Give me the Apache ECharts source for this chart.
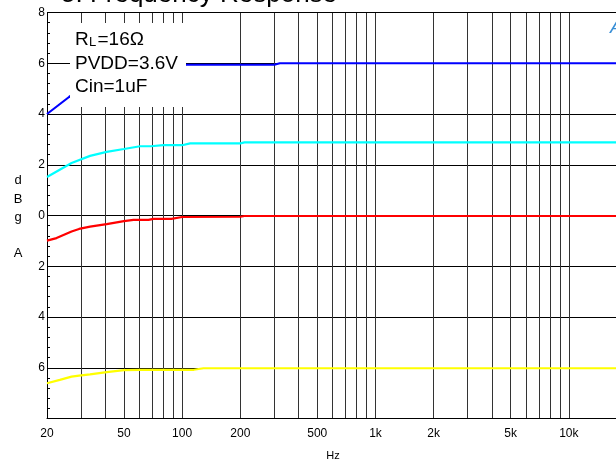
<!DOCTYPE html>
<html><head><meta charset="utf-8">
<script src="https://cdn.jsdelivr.net/npm/echarts@6/dist/echarts.min.js"></script>
<style>html,body{margin:0;padding:0;background:#fff}#c{width:616px;height:461px}</style>
</head><body><div id="c"></div>
<script>
// Frequency (Hz) and gain (dB)
const blueFreq   = [20, 26, 30, 40, 50, 60, 80, 100, 106, 300, 320, 20000];
const blueGain   = [4.0, 4.67, 5.0, 5.4, 5.6, 5.75, 5.88, 5.93, 5.94, 5.94, 6.0, 6.0];
const cyanFreq   = [20, 26.8, 33.4, 40.7, 50, 60.6, 69, 80, 100, 110, 200, 210, 20000];
const cyanGain   = [1.52, 2.07, 2.35, 2.51, 2.62, 2.73, 2.73, 2.77, 2.77, 2.84, 2.84, 2.88, 2.88];
const redFreq    = [20, 22.4, 26.8, 29.3, 33.4, 40.7, 50, 56, 67, 71, 88, 100, 200, 210, 20000];
const redGain    = [-0.99, -0.89, -0.63, -0.53, -0.44, -0.34, -0.22, -0.17, -0.17, -0.13, -0.13, -0.06, -0.05, -0.02, -0.02];
const yellowFreq = [20, 23.3, 26.8, 29.3, 33.4, 40.7, 50, 60.6, 115, 129, 20000];
const yellowGain = [-6.61, -6.48, -6.35, -6.31, -6.26, -6.17, -6.09, -6.08, -6.08, -6.02, -6.02];

const gridFreqs  = [30, 40, 50, 60, 70, 80, 90, 100, 200, 300, 400, 500, 600, 700, 800, 900,
                    1000, 2000, 3000, 4000, 5000, 6000, 7000, 8000, 9000, 10000];
const labelFreqs = [20, 50, 100, 200, 500, 1000, 2000, 5000, 10000];
const yMin = -8, yMax = 8, yStep = 2;

const pair = (fs, gs) => fs.map((f, i) => [f, gs[i]]);
const fmtHz = v => v >= 1000 ? (v / 1000) + 'k' : String(v);

const chart = echarts.init(document.getElementById('c'), null, {renderer: 'canvas'});
const FONT = 'Liberation Sans, Arial, sans-serif';
const lineSeries = (name, fs, gs, color) => ({
  name, type: 'line', data: pair(fs, gs), showSymbol: false, symbol: 'none',
  lineStyle: {color, width: 2.2}, itemStyle: {color}, z: 5
});
const txt = (text, x, y, size, extra) => Object.assign({type: 'text', z: 100,
  style: Object.assign({text, x, y, font: size + 'px ' + FONT, fill: '#000', textVerticalAlign: 'middle'}, extra || {})});

chart.setOption({
  animation: false,
  backgroundColor: '#fff',
  grid: {left: 47, top: 12.5, width: 580, height: 406, show: false, containLabel: false, outerBoundsMode: 'none'},
  xAxis: {
    type: 'log', logBase: 10, min: 20, max: 20000,
    axisLine: {show: true, onZero: false, lineStyle: {color: '#000', width: 1}},
    axisTick: {show: false, customValues: gridFreqs},
    axisLabel: {customValues: labelFreqs, formatter: fmtHz, color: '#000', fontSize: 12,
                fontFamily: FONT, margin: 9},
    splitLine: {show: true, lineStyle: {color: '#333', width: 1}},
    minorTick: {show: false}, minorSplitLine: {show: false}
  },
  yAxis: {
    type: 'value', min: yMin, max: yMax, interval: yStep,
    axisLine: {show: true, onZero: false, lineStyle: {color: '#000', width: 1}},
    axisTick: {show: true, inside: true, length: 3, lineStyle: {color: '#000'}},
    minorTick: {show: true, splitNumber: 5, length: 3, lineStyle: {color: '#000'}},
    axisLabel: {formatter: v => v === yMin ? '' : String(Math.abs(v)), color: '#000',
                fontSize: 12, fontFamily: FONT, margin: 2},
    splitLine: {show: true, lineStyle: {color: '#000', width: 1}}
  },
  series: [
    lineSeries('blue', blueFreq, blueGain, '#0000ff'),
    lineSeries('cyan', cyanFreq, cyanGain, '#00ffff'),
    lineSeries('red', redFreq, redGain, '#ff0000'),
    lineSeries('yellow', yellowFreq, yellowGain, '#ffff00')
  ],
  graphic: [
    {type: 'line', shape: {x1: 47, y1: 12.5, x2: 616, y2: 12.5}, style: {stroke: '#000', lineWidth: 1}, z: 50},
    txt('5. Frequency Response', 61, -5, 26),
    {type: 'rect', shape: {x: 70, y: 23, width: 116, height: 84}, style: {fill: '#fff'}, z: 90},
    txt('R', 75, 40, 19),
    txt('L', 89, 42, 13),
    txt('=16Ω', 97.5, 40, 19),
    txt('PVDD=3.6V', 75, 63.5, 19),
    txt('Cin=1uF', 75, 87, 19),
    txt('Av', 610, 28, 19, {font: 'italic 19px ' + FONT, fill: '#3a8fd6'}),
    txt('d', 18, 180, 13, {textAlign: 'center'}),
    txt('B', 18, 199, 13, {textAlign: 'center'}),
    txt('g', 18, 217, 13, {textAlign: 'center'}),
    txt('A', 18, 253, 13, {textAlign: 'center'}),
    txt('Hz', 333, 456, 11, {textAlign: 'center'})
  ]
});
</script></body></html>
